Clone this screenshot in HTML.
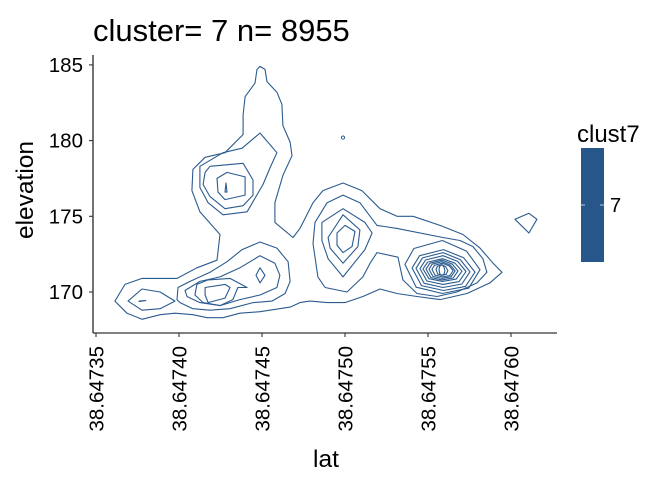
<!DOCTYPE html>
<html><head><meta charset="utf-8"><style>
html,body{margin:0;padding:0;background:#fff;}
svg{display:block;font-family:"Liberation Sans",Arial,sans-serif;}
</style></head><body>
<svg id="chart" width="672" height="480" viewBox="0 0 672 480">
<text x="93" y="41" font-size="31" fill="#000">cluster= 7 n= 8955</text>
<text transform="translate(33,190) rotate(-90)" text-anchor="middle" font-size="24.5" fill="#000">elevation</text>
<text x="326" y="467" text-anchor="middle" font-size="24.5" fill="#000">lat</text>
<g id="axes"></g>
<g id="contours"></g>
<g>
<text x="577" y="142" font-size="24" fill="#000">clust7</text>
<rect x="581" y="148" width="23" height="114" fill="#27578a"/>
<line x1="581" y1="205" x2="585" y2="205" stroke="#fff" stroke-width="1" opacity="0.7"/>
<line x1="600" y1="205" x2="604" y2="205" stroke="#fff" stroke-width="1" opacity="0.7"/>
<text x="610" y="212" font-size="20" fill="#000">7</text>
</g>
</svg>
<script>
// lat values stored as micro-degree offsets: lat = 38.64735 + (u - 35) * 1e-6
const xTickValues = [35, 85, 135, 185, 235, 285];
const xTickLabels = ["38.64735","38.64740","38.64745","38.64750","38.64755","38.64760"];
const yTickValues = [170, 175, 180, 185];
const yTickLabels = ["170","175","180","185"];

const contourOuter = [[46.4,169.4],[52.5,170.5],[62.7,170.9],[83.8,170.9],[95.8,171.6],[107.9,172.1],[109.7,173.8],[97.6,175.3],[92.8,176.7],[93.4,178.1],[100.7,178.9],[112.7,179.2],[123.6,180.4],[123.6,181.7],[124.8,182.9],[130.8,183.8],[132,184.7],[133.8,184.9],[136.8,184.7],[138,183.9],[144,183.2],[147,182.4],[147.6,181],[151.9,179.9],[153.1,179],[147.6,177.7],[142.8,175.9],[142.8,174.6],[153.7,173.6],[157.9,174.2],[165.7,175.9],[171.7,176.7],[183.8,177.2],[195.2,176.7],[206.1,175.5],[216.3,175],[226,175],[242.2,174.4],[256.1,173.8],[266.3,172.9],[274.2,171.9],[279.6,171.3],[272.3,170.6],[258.5,169.9],[242.2,169.5],[228.4,169.7],[216.3,169.9],[206.1,170.2],[195.8,169.7],[185,169.3],[174.2,169.3],[163.9,169.4],[157.9,169.3],[151.9,169.0],[133.8,168.7],[121.7,168.6],[111.5,168.3],[101.9,168.3],[93.4,168.5],[82.6,168.6],[73.6,168.5],[62.7,168.2],[53.7,168.6]];
const contourLeftSmall = [[54.3,169.4],[62.7,170.2],[73.6,170],[82.6,169.4],[73.6,168.9],[62.7,168.8]];
const contourLeftDot = [[61,169.4],[65,169.43],[61,169.37]];
const contourLowL2 = [[83.8,169.5],[84.4,170.3],[91.6,170.7],[103.7,171.3],[113.9,172],[123,172.8],[133.8,173.3],[144,172.9],[150.7,172],[151.9,170.7],[148.9,169.9],[141,169.4],[129.6,169.3],[115.7,168.9],[103.7,168.8],[93.4,168.9],[85.6,169.3]];
const contourLowL3 = [[88.6,170.1],[97.6,170.7],[109.7,171],[121.7,171.6],[133.8,172.4],[142.8,171.9],[145.8,171.1],[144,170.3],[133.8,169.8],[121.7,169.5],[109.7,169.1],[97.6,169.3],[89.8,169.7]];
const contourLowL4 = [[95.8,170.5],[102.5,170.8],[115.7,170.9],[126,170.3],[120.5,170.3],[117.5,169.5],[109.7,169.1],[99.5,169.3],[94.6,169.8]];
const contourLowL5 = [[100.7,170.3],[112.7,170.5],[115.7,170.3],[112.7,169.6],[102.5,169.3],[100.7,169.8]];
const contourDiamond = [[131.4,171.1],[133.8,171.6],[136.8,171.1],[133.8,170.6]];
const contourUpL2 = [[97.6,178.3],[111.5,179.2],[123,179.5],[133.8,180.5],[144,179.2],[139.8,178.2],[135.6,177.1],[126,175.3],[111.5,175.1],[102.5,175.9],[97.6,176.9]];
const contourUpL3 = [[103.7,178.3],[123.6,178.5],[129.6,177.4],[129.6,176.4],[123.6,175.7],[112.7,175.5],[103.7,176.3],[99.5,177.1],[100.7,177.9]];
const contourUpL4 = [[107.9,177.5],[113.9,177.9],[124.8,177.6],[124.8,176.4],[112.7,176.1],[108.5,176.6]];
const contourUpL5 = [[113.3,177.2],[113.9,176.6],[112.7,176.6]];
const contourMidL2 = [[165.7,173.2],[166.9,174.6],[174.2,175.9],[183.8,176.4],[194,175.9],[204.3,174.4],[216.3,174.2],[244,173.6],[254.3,173.4],[262.1,173],[268.1,172.2],[270.5,171.3],[264.5,170.6],[252.5,170],[240.4,169.7],[228.4,169.9],[219.9,170.8],[218.1,171.7],[216.9,172.3],[204.3,172.6],[200.1,171.9],[195.8,171],[186.2,170],[173,170.3],[168.7,171],[166.9,172.3]];
const contourMidL3 = [[171.1,174.6],[183.8,175.5],[197,174.6],[201.3,173.9],[197,172.8],[183.8,171],[174.8,172.2],[171.1,173.4]];
const contourMidL4 = [[174.8,173.6],[183.8,175.1],[194,174.1],[192.8,173],[183.8,171.9],[176,172.9]];
const contourMidL5 = [[180.2,173.9],[185,174.4],[191,174],[189.2,173],[183.8,172.6],[180.2,173.1]];
const contourRightTri = [[287.4,174.8],[295.8,175.2],[300.6,174.8],[295.8,173.9]];
// right peak rings
const ringLatMin = [221.1,225.4,227.8,230.2,232,233.8,235.6,237.4,239.8,241.6];
const ringLatMax = [266.3,263.3,260.3,257.9,255.5,253.1,251.3,250.1,247,245.2];
const ringElevMax = [173.4,172.8,172.6,172.4,172.2,172.1,172,171.9,171.8,171.8];
const ringElevMin = [169.9,170.1,170.3,170.5,170.7,170.8,170.9,171,171.1,171.1];
const dotLat = 183.8, dotElev = 180.2;

const X0 = 96, PX_PER_U = 1.66;
const Y0 = 292, PX_PER_M = 15.14;
function xScale(u){ return X0 + (u - 35) * PX_PER_U; }
function yScale(e){ return Y0 - (e - 170) * PX_PER_M; }
const NS = "http://www.w3.org/2000/svg";
const COL = "#2b5b8e";
const axes = document.getElementById('axes');
const cg = document.getElementById('contours');

function mk(tag, attrs, parent){
  const el = document.createElementNS(NS, tag);
  for (const k in attrs) el.setAttribute(k, attrs[k]);
  parent.appendChild(el); return el;
}
let al = mk('line',{x1:93,y1:55,x2:93,y2:333,stroke:'#000','stroke-width':1.1},axes);


al = mk('line',{x1:93,y1:333,x2:557,y2:333,stroke:'#000','stroke-width':1.1},axes);



yTickValues.forEach((v,i)=>{
  const y = yScale(v);
  const t = mk('line',{x1:89,y1:y,x2:93,y2:y,stroke:'#333','stroke-width':1.1},axes);
  
  
  const l = mk('text',{x:83,y:y+7,'text-anchor':'end','font-size':20.5,fill:'#000'},axes);
  l.textContent = yTickLabels[i];
  
  
});
xTickValues.forEach((v,i)=>{
  const x = xScale(v);
  const t = mk('line',{x1:x,y1:333,x2:x,y2:337,stroke:'#333','stroke-width':1.1},axes);
  
  
  const l = mk('text',{transform:`translate(${x+7.5},346) rotate(-90)`,'text-anchor':'end','font-size':20.5,fill:'#000'},axes);
  l.textContent = xTickLabels[i];
  
  
});

function drawPoly(pts, name){
  const d = pts.map(p => xScale(p[0]).toFixed(1)+','+yScale(p[1]).toFixed(1)).join(' ');
  const p = mk('polygon',{points:d,fill:'none',stroke:COL,'stroke-width':1.1,'stroke-linejoin':'round'},cg);
  
  
}
drawPoly(contourOuter,'contour-outer');
drawPoly(contourLeftSmall,'contour-left-small');
drawPoly(contourLeftDot,'contour-left-dot');
drawPoly(contourLowL2,'contour-low-2');
drawPoly(contourLowL3,'contour-low-3');
drawPoly(contourLowL4,'contour-low-4');
drawPoly(contourLowL5,'contour-low-5');
drawPoly(contourDiamond,'contour-diamond');
drawPoly(contourUpL2,'contour-up-2');
drawPoly(contourUpL3,'contour-up-3');
drawPoly(contourUpL4,'contour-up-4');
drawPoly(contourUpL5,'contour-up-5');
drawPoly(contourMidL2,'contour-mid-2');
drawPoly(contourMidL3,'contour-mid-3');
drawPoly(contourMidL4,'contour-mid-4');
drawPoly(contourMidL5,'contour-mid-5');
drawPoly(contourRightTri,'contour-right-small');
ringLatMin.forEach((lo,i)=>{
  const hi = ringLatMax[i], top = ringElevMax[i], bot = ringElevMin[i];
  const w = hi - lo, h = top - bot;
  const pts = [[lo, bot+h*0.55],[lo+w*0.12, top-h*0.15],[lo+w*0.5, top],[lo+w*0.82, top-h*0.2],[hi, bot+h*0.45],[lo+w*0.85, bot+h*0.1],[lo+w*0.5, bot],[lo+w*0.15, bot+h*0.12]];
  drawPoly(pts,'contour-peak-ring');
});
const dot = mk('circle',{cx:xScale(dotLat),cy:yScale(dotElev),r:1.6,fill:'none',stroke:COL,'stroke-width':1},cg);


</script>
</body></html>
